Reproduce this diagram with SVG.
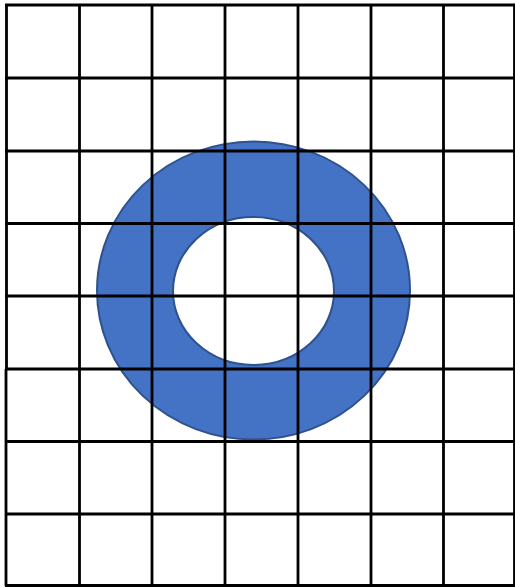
<svg xmlns="http://www.w3.org/2000/svg" width="515" height="587" viewBox="0 0 515 587">
<style>
.g{stroke:#000;stroke-width:2.8;fill:none}
.ring{fill:#4472C4;stroke:#2F528F;stroke-width:2;fill-rule:evenodd}
</style>
<rect width="515" height="587" fill="#fff"/>
<g id="ring">
<path class="ring" d="M97,290.5 A156.5,149 0 1,0 410,290.5 A156.5,149 0 1,0 97,290.5 Z M173,291 A80.5,74 0 1,0 334,291 A80.5,74 0 1,0 173,291 Z"/>
</g>
<g id="grid" class="g">
<path d="M6.5,5 V369 M6,369 V586 M79.5,5 V586 M152,5 V586 M225,5 V586 M298,5 V586 M371,5 V586 M443.5,5 V586 M514.5,5 V586"/>
<path d="M5,5 H515 M5,78 H515 M5,151 H515 M5,223.5 H515 M5,296 H515 M5,369 H515 M5,441.5 H515 M5,514 H515 M5,585.5 H515"/>
</g>
</svg>
